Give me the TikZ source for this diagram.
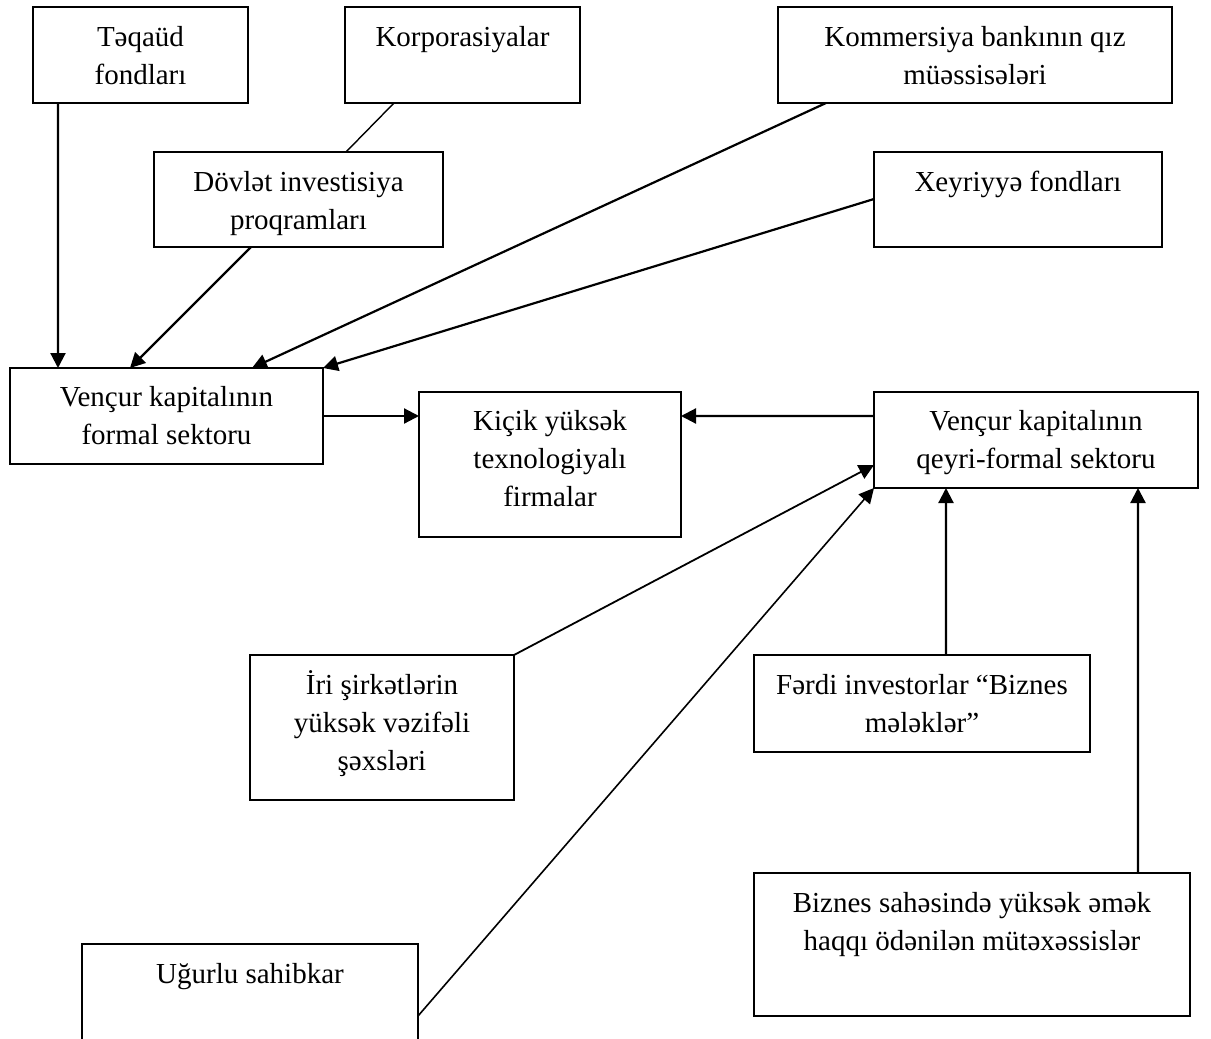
\documentclass[tikz,border=0pt]{standalone}
\usepackage{fontspec}
\setmainfont{Liberation Serif}
\usetikzlibrary{arrows.meta,calc}
\tikzset{
  box/.style={draw, line width=1.7bp, inner sep=0pt, outer sep=0pt},
  lbl/.style={anchor=base, inner sep=0pt, font=\fontsize{29bp}{38bp}\selectfont},
  arr/.style={line width=2.2bp, -{Triangle[length=15bp,width=15bp]}},
  plain/.style={line width=1.4bp}
}
\begin{document}
\begin{tikzpicture}[x=1bp,y=-1bp]
\useasboundingbox (0,0) rectangle (1211,1039);
\fill[white] (0,0) rectangle (1211,1039);
\clip (0,0) rectangle (1211,1039);

% boxes (centre, size)
\node[box, minimum width=215bp, minimum height=96bp] (tq) at (140.5,55) {};
\node[box, minimum width=235bp, minimum height=96bp] (kp) at (462.5,55) {};
\node[box, minimum width=394bp, minimum height=96bp] (km) at (975,55) {};
\node[box, minimum width=289bp, minimum height=95bp] (dv) at (298.5,199.5) {};
\node[box, minimum width=288bp, minimum height=95bp] (xy) at (1018,199.5) {};
\node[box, minimum width=313bp, minimum height=96bp] (fm) at (166.5,416) {};
\node[box, minimum width=262bp, minimum height=145bp] (kc) at (550,464.5) {};
\node[box, minimum width=324bp, minimum height=96bp] (qf) at (1036,440) {};
\node[box, minimum width=264bp, minimum height=145bp] (ir) at (382,727.5) {};
\node[box, minimum width=336bp, minimum height=97bp] (fd) at (922,703.5) {};
\node[box, minimum width=436bp, minimum height=143bp] (bz) at (972,944.5) {};
\node[box, minimum width=336bp, minimum height=101bp] (ug) at (250,994.5) {};

% texts
\node[lbl] (tq1) at (140.5,46) {Təqaüd};
\node[lbl] (tq2) at (140.5,84) {fondları};
\node[lbl] (kp1) at (462.5,46) {Korporasiyalar};
\node[lbl] (km1) at (975,46) {Kommersiya bankının qız};
\node[lbl] (km2) at (975,84) {müəssisələri};
\node[lbl] (dv1) at (298.5,191) {Dövlət investisiya};
\node[lbl] (dv2) at (298.5,229) {proqramları};
\node[lbl] (xy1) at (1018,191) {Xeyriyyə fondları};
\node[lbl] (fm1) at (166.5,406) {Vençur kapitalının};
\node[lbl] (fm2) at (166.5,444) {formal sektoru};
\node[lbl] (kc1) at (550,430) {Kiçik yüksək};
\node[lbl] (kc2) at (550,468) {texnologiyalı};
\node[lbl] (kc3) at (550,506) {firmalar};
\node[lbl] (qf1) at (1036,430) {Vençur kapitalının};
\node[lbl] (qf2) at (1036,468) {qeyri-formal sektoru};
\node[lbl] (ir1) at (382,694) {İri şirkətlərin};
\node[lbl] (ir2) at (382,732) {yüksək vəzifəli};
\node[lbl] (ir3) at (382,770) {şəxsləri};
\node[lbl] (fd1) at (922,694) {Fərdi investorlar “Biznes};
\node[lbl] (fd2) at (922,732) {mələklər”};
\node[lbl] (bz1) at (972,912) {Biznes sahəsində yüksək əmək};
\node[lbl] (bz2) at (972,950) {haqqı ödənilən mütəxəssislər};
\node[lbl] (ug1) at (250,983) {Uğurlu sahibkar};

% connectors
\draw[arr] ($(tq.south west)+(25,0)$) -- ($(fm.north west)+(48,0)$);
\draw[plain] ($(kp.south west)+(49,0)$) -- ($(dv.north west)+(192,0)$);
\draw[arr] ($(dv.south west)+(97,0)$) -- ($(fm.north west)+(120,0)$);
\draw[arr] ($(km.south west)+(48,0)$) -- ($(fm.north west)+(242,0)$);
\draw[arr] ($(xy.north west)+(0,47)$) -- (fm.north east);
\draw[arr] (fm.east) -- (fm.east -| kc.west);
\draw[arr] ($(qf.north west)+(0,24)$) -- ($(kc.north east)+(0,24)$);
\draw[arr, line width=1.8bp] (ir.north east) -- ($(qf.north west)+(0,73)$);
\draw[arr, line width=1.6bp] ($(ug.north east)+(0,72)$) -- (qf.south west);
\draw[arr] ($(fd.north west)+(192,0)$) -- ($(qf.south west)+(72,0)$);
\draw[arr] ($(bz.north west)+(384,0)$) -- ($(qf.south west)+(264,0)$);
\end{tikzpicture}
\end{document}
